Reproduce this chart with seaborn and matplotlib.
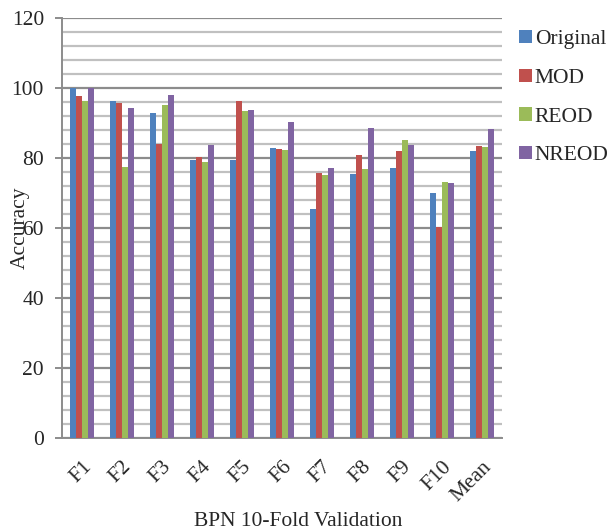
import numpy as np
import pandas as pd
import matplotlib
matplotlib.use("Agg")
import matplotlib.pyplot as plt
import seaborn as sns
from matplotlib.ticker import MultipleLocator

folds = ["F1", "F2", "F3", "F4", "F5", "F6", "F7", "F8", "F9", "F10", "Mean"]
methods = ["Original", "MOD", "REOD", "NREOD"]
original = [100.0, 96.4, 92.9, 79.4, 79.4, 82.9, 65.5, 75.3, 77.1, 70.0, 81.9]
mod = [97.6, 95.7, 84.0, 80.4, 96.3, 82.7, 75.7, 80.9, 82.1, 60.4, 83.5]
reod = [96.4, 77.5, 95.1, 78.8, 93.5, 82.4, 75.1, 76.9, 85.2, 73.1, 83.2]
nreod = [100.0, 94.4, 98.1, 83.8, 93.8, 90.4, 77.1, 88.6, 83.8, 72.8, 88.2]
colors = ["#4F81BD", "#C0504D", "#9BBB59", "#8064A2"]

df = pd.DataFrame({
    "Fold": folds * 4,
    "Method": sum([[m] * len(folds) for m in methods], []),
    "Accuracy": original + mod + reod + nreod,
})

sns.set_style("white")
plt.rcParams["font.family"] = ["Liberation Serif", "DejaVu Serif"]
FS = 15.5

fig = plt.figure(figsize=(6.11, 5.31), dpi=100)
ax = fig.add_axes([62 / 611, 1 - 438 / 531, 440 / 611, 420 / 531])

sns.barplot(data=df, x="Fold", y="Accuracy", hue="Method", hue_order=methods,
            order=folds, palette=colors, width=0.58, gap=0, ax=ax,
            edgecolor="none", saturation=1, errorbar=None, zorder=3)

ax.set_ylim(0, 120)
ax.set_xlim(-0.5, len(folds) - 0.5)
ax.yaxis.set_major_locator(MultipleLocator(20))
ax.yaxis.set_minor_locator(MultipleLocator(4))
ax.grid(which="minor", axis="y", color="#c0c0c0", linewidth=1.6, zorder=0)
ax.grid(which="major", axis="y", color="#8c8c8c", linewidth=1.6, zorder=0)
ax.set_axisbelow(True)

for side in ["top", "right"]:
    ax.spines[side].set_visible(False)
for side in ["left", "bottom"]:
    ax.spines[side].set_color("#8c8c8c")
    ax.spines[side].set_linewidth(1.4)

ax.tick_params(axis="y", which="major", length=5, width=1.4, color="#8c8c8c",
               labelsize=FS, pad=8, left=True)
ax.tick_params(axis="y", which="minor", length=0)
ax.tick_params(axis="x", length=0, labelsize=FS, pad=14)
for lbl in ax.get_xticklabels():
    lbl.set_rotation(45)
    lbl.set_ha("right")
    lbl.set_rotation_mode("anchor")

ax.set_xlabel("")
ax.set_ylabel("")
fig.text(20 / 611, 1 - 228 / 531, "Accuracy", rotation=90, ha="center",
         va="center", fontsize=FS)
fig.text(298 / 611, 1 - 521 / 531, "BPN 10-Fold Validation", ha="center",
         va="center", fontsize=FS)

ax.legend(loc="upper left", bbox_to_anchor=(519 / 611, 1 - 30 / 531),
          bbox_transform=fig.transFigure, frameon=False, fontsize=FS,
          handlelength=0.62, handleheight=0.58, handletextpad=0.12,
          labelspacing=0.9, borderaxespad=0, borderpad=0)

fig.savefig("out.png", dpi=100)
